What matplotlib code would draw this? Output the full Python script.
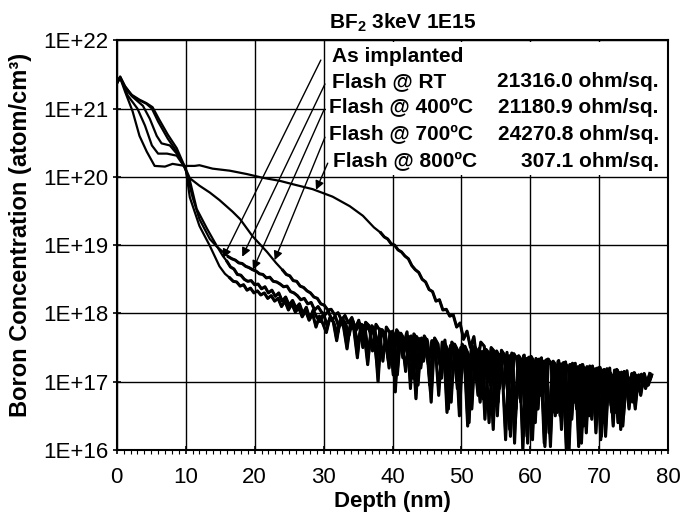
import matplotlib
matplotlib.use("Agg")
import matplotlib.pyplot as plt
import matplotlib.patches as patches
import numpy as np

plt.rcParams['font.family'] = ['Liberation Sans', 'DejaVu Sans']
plt.rcParams['mathtext.fontset'] = 'custom'
plt.rcParams['mathtext.rm'] = 'Liberation Sans'
plt.rcParams['mathtext.bf'] = 'Liberation Sans:bold'

# depth in nm, concentration stored as log10(atom/cm3)
STEP = 0.5

asimp_head_x = [0.1, 0.5, 1.2, 2.2, 3.3, 4.3, 5.1, 6.0, 7.4, 8.7, 9.9, 10.6, 11.6, 13.1, 14.5, 15.4]
asimp_head_y = [21.40, 21.47, 21.33, 21.19, 21.12, 21.07, 21.00, 20.81, 20.56, 20.37, 20.12, 19.95, 19.53, 19.24, 18.99, 18.84]
asimp_tail_x0 = 16.0
asimp_tail_y = [
    18.76, 18.68, 18.65, 18.57, 18.56, 18.50, 18.47, 18.48, 18.42, 18.43,
    18.36, 18.39, 18.30, 18.34, 18.25, 18.30, 18.18, 18.24, 18.12, 18.19,
    18.08, 18.14, 18.00, 18.09, 17.92, 18.05, 17.95, 17.88, 18.00, 17.82,
    17.95, 17.86, 17.70, 17.92, 17.80, 17.62, 17.88, 17.78, 17.55, 17.84,
    17.80, 17.40, 17.82, 17.72, 17.50, 17.76, 17.68, 17.20, 17.74, 17.62,
    17.68, 17.35, 17.70, 17.58, 17.05, 17.66, 17.56, 17.30, 17.62, 16.85,
    17.60, 17.50, 17.20, 17.58, 17.47, 16.70, 17.55, 17.45, 17.10, 17.52,
    17.40, 16.60, 17.50, 17.42, 17.05, 17.47, 16.40, 17.44, 17.36, 16.90,
    17.42, 17.30, 16.30, 17.40, 17.35, 16.75, 17.38, 16.20, 17.36, 17.28,
    16.60, 17.34, 16.10, 17.33, 17.25, 16.55, 17.30, 16.30, 17.28, 17.20,
    16.45, 17.27, 16.05, 17.25, 17.15, 16.50, 17.23, 16.25, 17.21, 17.12,
    16.60, 17.20, 16.35, 17.18, 17.10, 16.50, 17.16, 16.70, 17.13, 17.05,
    16.80, 17.12, 16.95, 17.08]

rt_head_x = [0.1, 0.5, 1.2, 2.2, 3.8, 4.8, 5.8, 6.5, 7.7, 8.7, 9.9, 10.4, 11.0, 12.0, 13.5, 14.5, 15.4]
rt_head_y = [21.40, 21.46, 21.30, 21.18, 21.04, 20.85, 20.60, 20.49, 20.46, 20.34, 20.15, 19.95, 19.70, 19.38, 19.09, 18.98, 18.90]
rt_tail_x0 = 16.2
rt_tail_y = [
    18.83, 18.80, 18.78, 18.74, 18.73, 18.69, 18.67, 18.64, 18.62, 18.58,
    18.57, 18.52, 18.53, 18.47, 18.46, 18.43, 18.39, 18.40, 18.32, 18.30,
    18.26, 18.20, 18.22, 18.14, 18.16, 18.05, 18.10, 18.02, 17.98, 18.03,
    17.90, 17.96, 17.80, 17.93, 17.85, 17.68, 17.90, 17.75, 17.86, 17.50,
    17.83, 17.74, 17.80, 17.30, 17.77, 17.70, 17.45, 17.73, 17.66, 17.10,
    17.71, 17.62, 17.40, 17.67, 17.58, 16.95, 17.64, 17.55, 17.25, 17.60,
    17.52, 16.80, 17.58, 17.48, 17.15, 17.54, 17.46, 16.50, 17.51, 17.40,
    17.02, 17.48, 17.40, 16.70, 17.45, 17.35, 16.95, 17.43, 16.50, 17.40,
    17.32, 16.85, 17.39, 16.10, 17.37, 17.28, 16.65, 17.35, 17.25, 16.40,
    17.33, 16.90, 17.31, 16.25, 17.29, 17.22, 16.70, 17.27, 16.00, 17.25,
    17.18, 16.60, 17.24, 16.35, 17.22, 17.15, 16.75, 17.20, 16.15, 17.18,
    17.10, 16.65, 17.17, 16.40, 17.14, 17.08, 16.80, 17.12, 16.60, 17.10,
    17.02, 16.90, 17.07]

f400_head_x = [0.1, 0.5, 1.6, 3.0, 4.1, 5.1, 6.0, 7.3, 8.7, 10.0, 10.6, 12.0, 13.5, 14.9, 15.7]
f400_head_y = [21.38, 21.45, 21.19, 21.00, 20.75, 20.46, 20.34, 20.34, 20.31, 20.12, 19.70, 19.28, 18.99, 18.69, 18.58]
f400_tail_x0 = 16.4
f400_tail_y = [
    18.52, 18.47, 18.46, 18.40, 18.42, 18.34, 18.37, 18.30, 18.33, 18.27,
    18.30, 18.22, 18.26, 18.18, 18.22, 18.10, 18.18, 18.05, 18.14, 18.02,
    18.08, 17.95, 18.04, 17.90, 18.00, 17.80, 17.96, 17.85, 17.72, 17.93,
    17.88, 17.60, 17.90, 17.80, 17.48, 17.86, 17.76, 17.35, 17.82, 17.70,
    17.25, 17.79, 17.68, 17.00, 17.76, 17.64, 17.30, 17.72, 16.85, 17.69,
    17.60, 17.15, 17.66, 17.55, 16.75, 17.63, 17.40, 17.58, 16.95, 17.60,
    17.48, 17.25, 17.56, 16.55, 17.53, 17.44, 16.90, 17.50, 17.38, 16.35,
    17.47, 17.30, 16.80, 17.44, 16.45, 17.42, 17.32, 16.65, 17.40, 17.20,
    16.15, 17.38, 17.28, 16.60, 17.36, 16.00, 17.34, 17.22, 16.50, 17.32,
    16.80, 17.30, 17.20, 16.05, 17.28, 16.55, 17.26, 17.15, 16.30, 17.24,
    16.70, 17.22, 16.10, 17.20, 17.12, 16.45, 17.19, 16.80, 17.17, 16.20,
    17.15, 17.08, 16.55, 17.13, 16.35, 17.11, 17.02, 16.70, 17.09, 16.85,
    17.07, 16.95, 17.05]

f700_head_x = [0.1, 0.5, 1.2, 2.2, 3.3, 4.3, 5.2, 6.1, 7.4, 8.7, 9.9, 10.6, 12.0, 13.5, 14.9, 16.8, 17.9, 19.7, 21.8, 23.1]
f700_head_y = [21.38, 21.46, 21.32, 21.20, 21.13, 21.08, 21.02, 20.85, 20.62, 20.42, 20.14, 19.98, 19.87, 19.77, 19.66, 19.49, 19.38, 19.13, 18.90, 18.74]
f700_tail_x0 = 24.1
f700_tail_y = [
    18.63, 18.57, 18.55, 18.48, 18.47, 18.40, 18.38, 18.33, 18.30, 18.24,
    18.22, 18.14, 18.12, 18.05, 18.06, 17.98, 18.01, 17.90, 17.97, 17.86,
    17.94, 17.78, 17.90, 17.60, 17.87, 17.82, 17.45, 17.84, 17.76, 17.30,
    17.80, 17.72, 17.10, 17.76, 17.68, 17.40, 17.73, 16.90, 17.70, 17.62,
    17.20, 17.67, 17.58, 16.70, 17.64, 17.55, 17.05, 17.61, 16.60, 17.58,
    17.50, 16.90, 17.55, 17.45, 16.40, 17.52, 17.20, 17.49, 16.75, 17.47,
    17.40, 16.30, 17.45, 17.35, 16.90, 17.43, 16.20, 17.41, 17.32, 16.70,
    17.39, 16.10, 17.37, 17.28, 16.60, 17.35, 16.05, 17.33, 17.24, 16.50,
    17.31, 16.85, 17.29, 16.00, 17.27, 17.20, 16.55, 17.25, 16.25, 17.23,
    17.16, 16.65, 17.21, 16.40, 17.19, 17.12, 16.70, 17.17, 16.30, 17.15,
    17.08, 16.75, 17.13, 16.90, 17.11, 17.02, 16.95, 17.10]

f800_head_x = [0.1, 0.5, 1.2, 2.3, 3.3, 4.35, 5.5, 7.0, 8.1, 9.9, 11.3, 12.0, 13.9, 16.4, 18.9, 21.0, 23.7, 26.0, 28.4, 31.3, 33.8, 35.7, 37.3]
f800_head_y = [21.38, 21.45, 21.25, 20.96, 20.60, 20.37, 20.16, 20.15, 20.19, 20.16, 20.16, 20.17, 20.12, 20.09, 20.04, 19.99, 19.94, 19.88, 19.82, 19.71, 19.57, 19.43, 19.26]
f800_tail_x0 = 38.3
f800_tail_y = [
    19.18, 19.12, 19.09, 19.02, 19.00, 18.93, 18.90, 18.84, 18.80, 18.70,
    18.64, 18.60, 18.50, 18.46, 18.35, 18.32, 18.18, 18.20, 18.05, 18.06,
    17.96, 17.98, 17.80, 17.86, 17.62, 17.74, 17.50, 17.66, 17.25, 17.58,
    17.52, 17.00, 17.50, 17.44, 16.70, 17.46, 17.38, 16.85, 17.42, 16.40,
    17.38, 17.30, 16.60, 17.36, 16.15, 17.34, 17.26, 16.75, 17.32, 16.30,
    17.30, 17.22, 16.50, 17.28, 16.10, 17.25, 17.18, 16.65, 17.23, 16.40,
    17.21, 17.14, 16.80, 17.19, 16.20, 17.17, 17.10, 16.55, 17.15, 16.75,
    17.13, 17.06, 16.60, 17.11, 16.85, 17.09, 17.00, 16.95, 17.12]

curves = [
    (asimp_head_x, asimp_head_y, asimp_tail_x0, asimp_tail_y),
    (rt_head_x, rt_head_y, rt_tail_x0, rt_tail_y),
    (f400_head_x, f400_head_y, f400_tail_x0, f400_tail_y),
    (f700_head_x, f700_head_y, f700_tail_x0, f700_tail_y),
    (f800_head_x, f800_head_y, f800_tail_x0, f800_tail_y),
]

labels = ['As implanted', 'Flash @ RT', 'Flash @ 400ºC', 'Flash @ 700ºC', 'Flash @ 800ºC']
sheet_res = ['', '21316.0 ohm/sq.', '21180.9 ohm/sq.', '24270.8 ohm/sq.', '307.1 ohm/sq.']

# annotation placement (depth nm, log10 conc)
label_pos = [(31.2, 21.675), (31.2, 21.31), (30.8, 20.94), (30.8, 20.545), (31.35, 20.14)]
arrow_from = [(29.6, 21.71), (30.2, 21.36), (30.05, 20.98), (30.2, 20.58), (30.6, 20.20)]
arrow_to = [(15.4, 18.81), (18.2, 18.83), (19.75, 18.64), (22.9, 18.78), (28.9, 19.81)]

yticks = [16, 17, 18, 19, 20, 21, 22]
ytick_labels = ['1E+16', '1E+17', '1E+18', '1E+19', '1E+20', '1E+21', '1E+22']
xticks = [0, 10, 20, 30, 40, 50, 60, 70, 80]

fig = plt.figure(figsize=(6.81, 5.25), dpi=100)
ax = fig.add_axes([0.1714, 0.1429, 0.8100, 0.7804])

for hx, hy, x0, ty in curves:
    tx = x0 + STEP * np.arange(len(ty))
    x = np.concatenate([hx, tx])
    y = 10 ** np.concatenate([hy, ty])
    ax.plot(x, y, color='black', lw=1.6, zorder=3)
    # noisy tail drawn heavier, as in the printed SIMS traces
    ax.plot(tx, 10 ** np.asarray(ty), color='black', lw=2.2, zorder=3)

ax.set_yscale('log')
ax.set_xlim(0, 80)
ax.set_ylim(1e16, 1e22)
ax.set_yticks([10.0 ** v for v in yticks])
ax.set_yticklabels(ytick_labels)
ax.yaxis.set_minor_locator(matplotlib.ticker.NullLocator())
ax.set_xticks(xticks)
ax.xaxis.set_minor_locator(matplotlib.ticker.MultipleLocator(1))
ax.tick_params(axis='both', which='major', direction='inout', length=6, width=1.2, labelsize=16, color='black')
ax.tick_params(axis='y', which='major', pad=3)
ax.tick_params(axis='x', which='major', pad=9)
ax.tick_params(axis='x', which='minor', direction='out', length=3, width=0.8)
ax.grid(True, which='major', color='black', lw=1.0)
ax.set_axisbelow(True)
for s in ax.spines.values():
    s.set_linewidth(1.5)

# white legend area hides the grid behind the labels
ax.add_patch(patches.Rectangle((30.3, 10 ** 20.02), 49.6, 10 ** 21.97 - 10 ** 20.02,
                               facecolor='white', edgecolor='none', zorder=1))

for i in range(len(labels)):
    lx, ly = label_pos[i]
    ax.text(lx, 10 ** ly, labels[i], fontsize=15, fontweight='bold', ha='left', va='baseline', zorder=4)
    if sheet_res[i]:
        ax.text(78.6, 10 ** ly, sheet_res[i], fontsize=15, fontweight='bold', ha='right', va='baseline', zorder=4)
    fx, fy = arrow_from[i]
    tx_, ty_ = arrow_to[i]
    ax.annotate('', xy=(tx_, 10 ** ty_), xytext=(fx, 10 ** fy),
                arrowprops=dict(arrowstyle='-|>', color='black', lw=1.0, mutation_scale=13,
                                shrinkA=0, shrinkB=0), zorder=4)

ax.text(0.518, 1.030, r'BF$_\mathbf{2}$ 3keV 1E15', transform=ax.transAxes,
        fontsize=15, fontweight='bold', ha='center', va='baseline')
ax.set_xlabel('Depth (nm)', fontsize=16, fontweight='bold')
ax.xaxis.set_label_coords(0.5, -0.100)
ax.xaxis.label.set_va('top')
ax.set_ylabel('Boron Concentration (atom/cm³)', fontsize=17, fontweight='bold')
ax.yaxis.set_label_coords(-0.154, 0.525)

fig.savefig('out.png', dpi=100)
